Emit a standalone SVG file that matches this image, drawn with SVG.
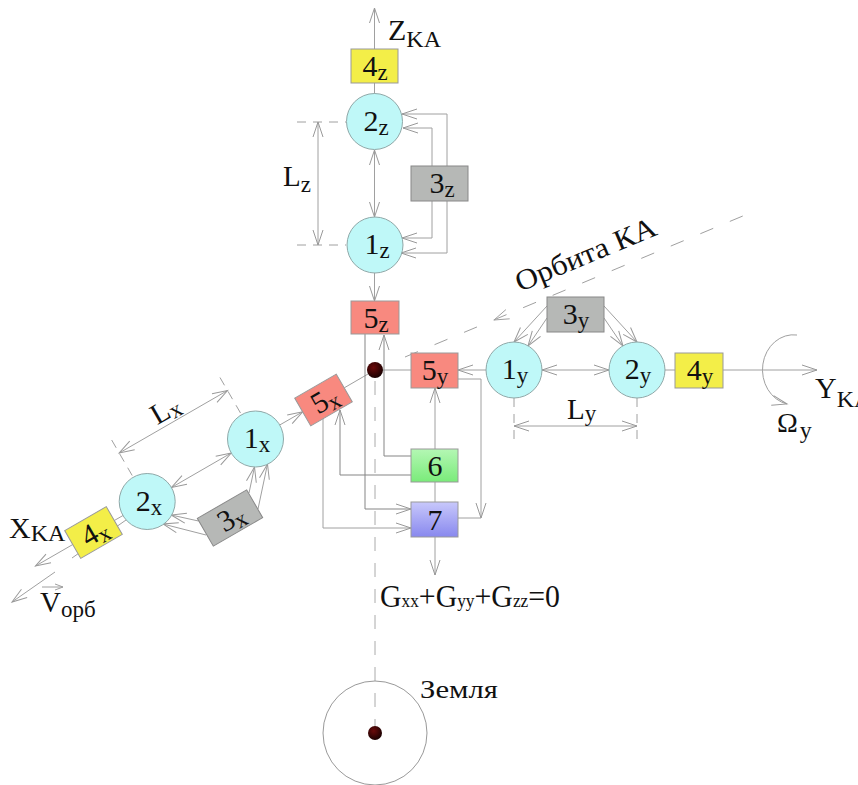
<svg xmlns="http://www.w3.org/2000/svg" width="858" height="785" viewBox="0 0 858 785">
<defs>
<style>
.ln{stroke:#a0a0a0;fill:none;stroke-width:1}
.dk{stroke:#858585}
.ds{stroke-dasharray:14 12}
.dd{stroke-dasharray:9 7}
.c{fill:#bff8f8;stroke:#8fa8a8}
.b5{fill:#f8897f;stroke:#999}
.b4{fill:#f3ee48;stroke:#999}
.b3{fill:#b6b8b6;stroke:#888}
text{font-family:"Liberation Serif","Times New Roman",serif;fill:#111}
.t{font-size:30px;text-anchor:middle}
.s{font-size:23px}
</style>
<marker id="ah" markerUnits="userSpaceOnUse" markerWidth="20" markerHeight="14" viewBox="-18 -7 20 14" refX="0" refY="0" orient="auto-start-reverse"><path d="M-15,-5 L0,0 L-15,5" fill="none" stroke="#999"/></marker>
<linearGradient id="g6" x1="0" y1="0" x2="0" y2="1"><stop offset="0" stop-color="#b4f7b4"/><stop offset="1" stop-color="#7aeb7a"/></linearGradient>
<linearGradient id="g7" x1="0" y1="0" x2="0" y2="1"><stop offset="0" stop-color="#c8c8fb"/><stop offset="1" stop-color="#8888ee"/></linearGradient>
<radialGradient id="gd" cx="0.4" cy="0.35" r="0.7"><stop offset="0" stop-color="#6a0a0a"/><stop offset="1" stop-color="#140000"/></radialGradient>
</defs>
<rect width="858" height="785" fill="#fff"/>

<g id="connectors" class="ln">
<line x1="374.5" y1="49" x2="374.5" y2="8" marker-end="url(#ah)"/>
<line x1="374.5" y1="83" x2="374.5" y2="94"/>
<line x1="374.5" y1="150" x2="374.5" y2="217" marker-start="url(#ah)" marker-end="url(#ah)"/>
<line x1="374.5" y1="273" x2="374.5" y2="301" marker-end="url(#ah)"/>
<path d="M447,166 V114 H402" marker-end="url(#ah)"/>
<path d="M432,166 V128 H403" marker-end="url(#ah)"/>
<path d="M432,201 V238 H402" marker-end="url(#ah)"/>
<path d="M447,201 V253 H401" marker-end="url(#ah)"/>
<line x1="297" y1="122" x2="346" y2="122" class="dd"/>
<line x1="297" y1="245" x2="346" y2="245" class="dd"/>
<line x1="318" y1="122" x2="318" y2="245" marker-start="url(#ah)" marker-end="url(#ah)"/>
<line x1="486" y1="370" x2="458" y2="370" marker-end="url(#ah)"/>
<line x1="542" y1="370" x2="609" y2="370" marker-start="url(#ah)" marker-end="url(#ah)"/>
<line x1="665" y1="370" x2="675" y2="370"/>
<line x1="723" y1="370" x2="817" y2="370" marker-end="url(#ah)"/>
<line x1="547" y1="306" x2="514" y2="342" marker-end="url(#ah)"/>
<line x1="547" y1="318" x2="528" y2="346" marker-end="url(#ah)"/>
<line x1="604" y1="306" x2="637" y2="342" marker-end="url(#ah)"/>
<line x1="604" y1="318" x2="623" y2="346" marker-end="url(#ah)"/>
<line x1="514" y1="398" x2="514" y2="440" class="dd"/>
<line x1="637" y1="398" x2="637" y2="440" class="dd"/>
<line x1="514" y1="426" x2="637" y2="426" marker-start="url(#ah)" marker-end="url(#ah)"/>
<path d="M797,335 A31,35 0 0 0 787,404" marker-end="url(#ah)"/>
<line x1="405" y1="357" x2="750" y2="213" stroke-dasharray="14 18"/>
<path d="M509.7,318.8 L494,320 L505.9,309.6"/>
<line x1="368.9" y1="373.5" x2="344.3" y2="387.8"/>
<line x1="279.7" y1="425" x2="302.7" y2="411.8" marker-end="url(#ah)"/>
<line x1="171.5" y1="487.5" x2="231.2" y2="453" marker-start="url(#ah)" marker-end="url(#ah)"/>
<line x1="123" y1="515.5" x2="114.3" y2="520.5"/>
<line x1="72.8" y1="544.5" x2="35.5" y2="566" marker-end="url(#ah)"/>
<line x1="126" y1="520" x2="72" y2="558"/>
<line x1="55" y1="572" x2="12" y2="602" marker-end="url(#ah)"/>
<line x1="42" y1="587" x2="63" y2="587"/>
<path d="M55,584 L63,587 L55,590"/>
<line x1="198.5" y1="521" x2="171.2" y2="515" marker-end="url(#ah)"/>
<line x1="206" y1="535" x2="163" y2="524" marker-end="url(#ah)"/>
<line x1="249" y1="493" x2="254.5" y2="467" marker-end="url(#ah)"/>
<line x1="258" y1="509" x2="267.5" y2="464" marker-end="url(#ah)"/>
<line x1="240.5" y1="413" x2="216.5" y2="371.5" class="dd"/>
<line x1="132.2" y1="475.5" x2="108.2" y2="434" class="dd"/>
<line x1="227.5" y1="390.5" x2="119.2" y2="453" marker-start="url(#ah)" marker-end="url(#ah)"/>
<line x1="383" y1="370" x2="411" y2="370"/>
<path d="M365,334 V509 H411" class="dk" marker-end="url(#ah)"/>
<path d="M411,456 H384 V335" class="dk" marker-end="url(#ah)"/>
<path d="M458,379 H481 V518" marker-end="url(#ah)"/>
<line x1="458" y1="518" x2="481" y2="518"/>
<line x1="435" y1="449" x2="435" y2="388" marker-end="url(#ah)"/>
<line x1="435" y1="482" x2="435" y2="502"/>
<line x1="435" y1="537" x2="435" y2="575" marker-end="url(#ah)"/>
<path d="M411,475 H340 V410" class="dk" marker-end="url(#ah)"/>
<path d="M323,418 V528 H411" marker-end="url(#ah)"/>
<line x1="375" y1="381" x2="375" y2="726" class="ds" stroke="#aaa"/>
</g>

<g id="n4z"><rect class="b4" x="351" y="49" width="47" height="34"/><text class="t" x="375" y="76">4<tspan class="s" dy="4">z</tspan></text></g>
<g id="n2z"><circle class="c" cx="374.5" cy="121.5" r="28"/><text class="t" x="376" y="131">2<tspan class="s" dy="4">z</tspan></text></g>
<g id="n3z"><rect class="b3" x="411" y="166" width="57" height="35"/><text class="t" x="442" y="193">3<tspan class="s" dy="4">z</tspan></text></g>
<g id="n1z"><circle class="c" cx="375" cy="245" r="28"/><text class="t" x="377" y="254">1<tspan class="s" dy="4">z</tspan></text></g>
<g id="n5z"><rect class="b5" x="351" y="301" width="48" height="33"/><text class="t" x="376" y="328">5<tspan class="s" dy="4">z</tspan></text></g>
<g id="n5y"><rect class="b5" x="411" y="353" width="47" height="35"/><text class="t" x="435" y="380">5<tspan class="s" dy="4">y</tspan></text></g>
<g id="n1y"><circle class="c" cx="514" cy="370" r="28"/><text class="t" x="515" y="379">1<tspan class="s" dy="4">y</tspan></text></g>
<g id="n3y"><rect class="b3" x="547" y="297" width="57" height="35"/><text class="t" x="576" y="324">3<tspan class="s" dy="4">y</tspan></text></g>
<g id="n2y"><circle class="c" cx="637" cy="370" r="28"/><text class="t" x="638" y="379">2<tspan class="s" dy="4">y</tspan></text></g>
<g id="n4y"><rect class="b4" x="675" y="353" width="48" height="35"/><text class="t" x="700" y="380">4<tspan class="s" dy="4">y</tspan></text></g>
<g id="n6"><rect x="411" y="449" width="47" height="33" fill="url(#g6)" stroke="#999"/><text class="t" x="435" y="476">6</text></g>
<g id="n7"><rect x="411" y="502" width="47" height="35" fill="url(#g7)" stroke="#999"/><text class="t" x="435" y="530">7</text></g>
<g id="n5x" transform="translate(323.5,400) rotate(-30)"><rect class="b5" x="-24" y="-16" width="48" height="32"/><text class="t" x="1" y="10">5<tspan class="s" dy="4">x</tspan></text></g>
<g id="n1x"><circle class="c" cx="255.5" cy="439" r="28"/><text class="t" x="257" y="448">1<tspan class="s" dy="4">x</tspan></text></g>
<g id="n2x"><circle class="c" cx="147.2" cy="501.5" r="28"/><text class="t" x="149" y="511">2<tspan class="s" dy="4">x</tspan></text></g>
<g id="n3x" transform="translate(230,518) rotate(-30)"><rect class="b3" x="-28.5" y="-16" width="57" height="32"/><text class="t" x="1" y="10">3<tspan class="s" dy="4">x</tspan></text></g>
<g id="n4x" transform="translate(93.5,532.5) rotate(-30)"><rect class="b4" x="-24" y="-16" width="48" height="32"/><text class="t" x="1" y="10">4<tspan class="s" dy="4">x</tspan></text></g>
<g id="sat"><circle cx="375" cy="370" r="8" fill="url(#gd)"/></g>
<g id="earth"><circle cx="375" cy="733" r="52" fill="none" stroke="#999"/><circle cx="375" cy="733" r="7" fill="url(#gd)"/><text x="420" y="698" font-size="26" textLength="78" lengthAdjust="spacingAndGlyphs">Земля</text></g>

<g id="labels">
<text x="388" y="40" font-size="30">Z<tspan font-size="24" dy="7">KA</tspan></text>
<text x="815" y="398" font-size="30">Y<tspan font-size="24" dy="9">KA</tspan></text>
<text x="9" y="538" font-size="30">X<tspan font-size="24" dy="3">KA</tspan></text>
<text x="777" y="432" font-size="28">Ω<tspan font-size="24" dx="2" dy="6">y</tspan></text>
<text x="40" y="612" font-size="29">V<tspan font-size="23" dy="5">орб</tspan></text>
<text x="283" y="186" font-size="29">L<tspan class="s" dy="6">z</tspan></text>
<text x="567" y="419" font-size="29">L<tspan class="s" dy="2">y</tspan></text>
<text transform="translate(170,418) rotate(-30)" font-size="29" text-anchor="middle">L<tspan class="s" dy="3">x</tspan></text>
<text transform="translate(520,292) rotate(-22.6)" font-size="29" textLength="150" lengthAdjust="spacingAndGlyphs">Орбита КА</text>
<text x="380" y="607" font-size="31" textLength="180" lengthAdjust="spacingAndGlyphs">G<tspan font-size="18">xx</tspan>+G<tspan font-size="18">yy</tspan>+G<tspan font-size="18">zz</tspan>=0</text>
</g>
</svg>
